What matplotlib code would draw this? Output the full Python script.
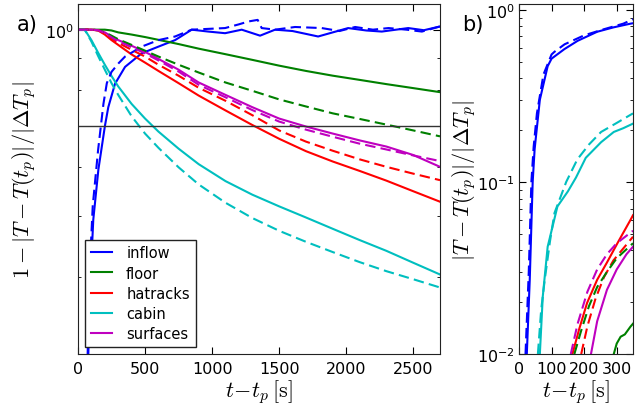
import matplotlib
matplotlib.use("Agg")
import matplotlib.pyplot as plt
from matplotlib.ticker import NullFormatter

plt.rcParams['mathtext.fontset'] = 'cm'
plt.rcParams['font.family'] = ['DejaVu Sans']

# colours of the old matplotlib b/g/r/c/m
C_INFLOW = (0, 0, 1)
C_FLOOR = (0, 0.5, 0)
C_HATRACKS = (1, 0, 0)
C_CABIN = (0, 0.75, 0.75)
C_SURF = (0.75, 0, 0.75)

# ---- panel a) data:  1 - |T - T(t_p)| / |dT_p|  vs  t - t_p [s]
t_a = [0, 50, 100, 150, 200, 250, 300, 400, 500, 600, 750, 900, 1100, 1300,
       1500, 1700, 1900, 2100, 2300, 2500, 2700]
floor_a = [1, 1, 1, 1, 1.0, 0.997, 0.99, 0.982, 0.973, 0.963, 0.948, 0.932, 0.913, 0.894,
           0.875, 0.858, 0.843, 0.83, 0.817, 0.805, 0.793]
floor_a_d = [1, 1, 1, 0.998, 0.99, 0.978, 0.965, 0.945, 0.925, 0.905, 0.878, 0.853, 0.822, 0.797,
             0.772, 0.752, 0.733, 0.718, 0.703, 0.688, 0.673]
hat_a = [1, 1, 1, 0.997, 0.982, 0.962, 0.945, 0.912, 0.885, 0.858, 0.820, 0.783, 0.741, 0.702,
         0.667, 0.637, 0.613, 0.592, 0.571, 0.549, 0.528]
hat_a_d = [1, 1, 1, 0.998, 0.986, 0.968, 0.952, 0.928, 0.905, 0.878, 0.843, 0.806, 0.768, 0.728,
           0.688, 0.66, 0.638, 0.618, 0.601, 0.586, 0.572]
cabin_a = [1, 1.0, 0.962, 0.918, 0.878, 0.842, 0.81, 0.759, 0.719, 0.685, 0.643, 0.607, 0.570,
           0.542, 0.519, 0.498, 0.4775, 0.458, 0.44, 0.421, 0.403]
cabin_a_d = [1, 1.0, 0.957, 0.907, 0.862, 0.82, 0.785, 0.725, 0.68, 0.645, 0.6, 0.563, 0.526,
             0.497, 0.474, 0.455, 0.438, 0.422, 0.408, 0.396, 0.384]
surf_a = [1, 1, 1, 0.998, 0.99, 0.975, 0.962, 0.942, 0.921, 0.897, 0.862, 0.822, 0.785, 0.750,
          0.719, 0.698, 0.680, 0.663, 0.648, 0.628, 0.601]
surf_a_d = [1, 1, 1, 0.998, 0.988, 0.972, 0.958, 0.937, 0.916, 0.892, 0.856, 0.815, 0.778, 0.742,
            0.711, 0.69, 0.672, 0.655, 0.641, 0.627, 0.614]

t_in = [70, 77, 90, 114, 152, 201, 226, 276, 351, 475, 600, 724, 848, 972, 1097, 1221,
        1358, 1470, 1600, 1791, 1900, 2015, 2150, 2266, 2463, 2580, 2700]
inflow_a = [0.25, 0.3, 0.384, 0.494, 0.595, 0.70, 0.75, 0.818, 0.871, 0.916, 0.939, 0.962, 1.0,
            0.993, 0.987, 1.0, 0.978, 1.0, 0.995, 0.975, 0.99, 1.006, 0.997, 0.993, 1.006, 0.998, 1.012]
t_in_d = [65, 72, 85, 110, 150, 190, 215, 250, 301, 351, 475, 600, 724, 848, 1097, 1200,
          1272, 1340, 1370, 1470, 1619, 1818, 1950, 2067, 2200, 2316, 2450, 2565, 2700]
inflow_a_d = [0.25, 0.3, 0.4, 0.52, 0.64, 0.76, 0.82, 0.855, 0.882, 0.905, 0.939, 0.962, 0.975,
              1.0, 1.006, 1.02, 1.031, 1.037, 1.006, 1.0, 1.01, 1.006, 0.995, 1.01, 1.0, 1.006,
              1.0, 0.993, 1.012]

threshold = 0.7

# ---- panel b) data:  |T - T(t_p)| / |dT_p|  vs  t - t_p [s]
t_in_b = [24, 33, 42, 48, 64, 88, 100, 139, 180, 240, 290, 342, 350]
inflow_b = [0.01, 0.027, 0.10, 0.155, 0.30, 0.47, 0.52, 0.59, 0.66, 0.745, 0.79, 0.83, 0.835]
t_in_b_d = [20, 30, 38, 45, 55, 75, 100, 109, 140, 200, 260, 320, 350]
inflow_b_d = [0.01, 0.03, 0.1, 0.16, 0.25, 0.42, 0.55, 0.57, 0.63, 0.71, 0.77, 0.83, 0.88]

t_cab_b = [64, 73, 88, 118, 150, 175, 205, 252, 291, 320, 350]
cabin_b = [0.01, 0.0216, 0.042, 0.072, 0.088, 0.106, 0.138, 0.17, 0.195, 0.205, 0.218]
t_cab_b_d = [58, 68, 79, 95, 109, 145, 179, 215, 252, 300, 342, 350]
cabin_b_d = [0.01, 0.018, 0.027, 0.045, 0.066, 0.10, 0.135, 0.165, 0.195, 0.22, 0.245, 0.25]

t_hat_b = [164, 185, 209, 240, 270, 305, 342, 350]
hat_b = [0.01, 0.014, 0.0198, 0.027, 0.034, 0.045, 0.060, 0.064]
t_hat_b_d = [191, 210, 235, 261, 290, 320, 350]
hat_b_d = [0.01, 0.0145, 0.021, 0.028, 0.035, 0.041, 0.048]

t_surf_b = [221, 240, 270, 300, 330, 350]
surf_b = [0.01, 0.0155, 0.0236, 0.031, 0.038, 0.042]
t_surf_b_d = [159, 180, 210, 240, 270, 300, 350]
surf_b_d = [0.01, 0.015, 0.023, 0.031, 0.038, 0.044, 0.052]

t_floor_b = [291, 300, 312, 325, 342, 350]
floor_b = [0.01, 0.0115, 0.0126, 0.013, 0.0144, 0.015]
t_floor_b_d = [170, 190, 215, 240, 270, 300, 350]
floor_b_d = [0.01, 0.0135, 0.019, 0.0245, 0.030, 0.036, 0.044]

LW = 1.5
DASH = (5, 2.5)

fig = plt.figure(figsize=(6.44, 4.1), dpi=100)
ax = fig.add_axes([78 / 644, 55 / 410, 362 / 644, 350 / 410])
axb = fig.add_axes([519 / 644, 55 / 410, 114 / 644, 350 / 410])

# panel a
ax.plot(t_in, inflow_a, color=C_INFLOW, lw=LW, label='inflow')
ax.plot(t_a, floor_a, color=C_FLOOR, lw=LW, label='floor')
ax.plot(t_a, hat_a, color=C_HATRACKS, lw=LW, label='hatracks')
ax.plot(t_a, cabin_a, color=C_CABIN, lw=LW, label='cabin')
ax.plot(t_a, surf_a, color=C_SURF, lw=LW, label='surfaces')
ax.plot(t_in_d, inflow_a_d, color=C_INFLOW, lw=LW, dashes=DASH)
ax.plot(t_a, floor_a_d, color=C_FLOOR, lw=LW, dashes=DASH)
ax.plot(t_a, hat_a_d, color=C_HATRACKS, lw=LW, dashes=DASH)
ax.plot(t_a, cabin_a_d, color=C_CABIN, lw=LW, dashes=DASH)
ax.plot(t_a, surf_a_d, color=C_SURF, lw=LW, dashes=DASH)
ax.axhline(threshold, color='#333333', lw=1)

ax.set_yscale('log')
ax.set_xlim(0, 2700)
ax.set_ylim(0.3, 1.1)
ax.yaxis.set_minor_formatter(NullFormatter())
ax.set_xticks([0, 500, 1000, 1500, 2000, 2500])
ax.set_xlabel(r'$t\!-\!t_p\,[\mathrm{s}]$', fontsize=16, labelpad=1)
ax.set_ylabel(r'$1-|T-T(t_p)|/|\Delta T_p|$', fontsize=16)
ax.yaxis.set_label_coords(-0.11, 0.5)
leg = ax.legend(loc='lower left', fontsize=10.5, handlelength=1.4, handletextpad=1.0,
                labelspacing=0.35, fancybox=False, framealpha=1, borderaxespad=0.5)
leg.get_frame().set_edgecolor('#222222')

# panel b
axb.plot(t_in_b, inflow_b, color=C_INFLOW, lw=LW)
axb.plot(t_cab_b, cabin_b, color=C_CABIN, lw=LW)
axb.plot(t_hat_b, hat_b, color=C_HATRACKS, lw=LW)
axb.plot(t_surf_b, surf_b, color=C_SURF, lw=LW)
axb.plot(t_floor_b, floor_b, color=C_FLOOR, lw=LW)
axb.plot(t_in_b_d, inflow_b_d, color=C_INFLOW, lw=LW, dashes=DASH)
axb.plot(t_cab_b_d, cabin_b_d, color=C_CABIN, lw=LW, dashes=DASH)
axb.plot(t_hat_b_d, hat_b_d, color=C_HATRACKS, lw=LW, dashes=DASH)
axb.plot(t_surf_b_d, surf_b_d, color=C_SURF, lw=LW, dashes=DASH)
axb.plot(t_floor_b_d, floor_b_d, color=C_FLOOR, lw=LW, dashes=DASH)

axb.set_yscale('log')
axb.set_xlim(0, 350)
axb.set_ylim(0.01, 1.08)
axb.yaxis.set_minor_formatter(NullFormatter())
axb.set_xticks([0, 100, 200, 300])
axb.set_xlabel(r'$t\!-\!t_p\,[\mathrm{s}]$', fontsize=16, labelpad=1)
axb.set_ylabel(r'$|T-T(t_p)|/|\Delta T_p|$', fontsize=16)
axb.yaxis.set_label_coords(-0.36, 0.5)

for a in (ax, axb):
    a.tick_params(which='both', direction='in', top=True, right=True, labelsize=11.5)
    a.tick_params(which='major', length=5, pad=3)
    a.tick_params(axis='x', which='major', pad=5)
    a.tick_params(which='minor', length=2.5)
    for s in a.spines.values():
        s.set_color('#222222')

fig.text(17 / 644, 1 - 25 / 410, 'a)', fontsize=15, va='center')
fig.text(462 / 644, 1 - 25 / 410, 'b)', fontsize=15, va='center')

fig.savefig('out.png', dpi=100, facecolor='white')
